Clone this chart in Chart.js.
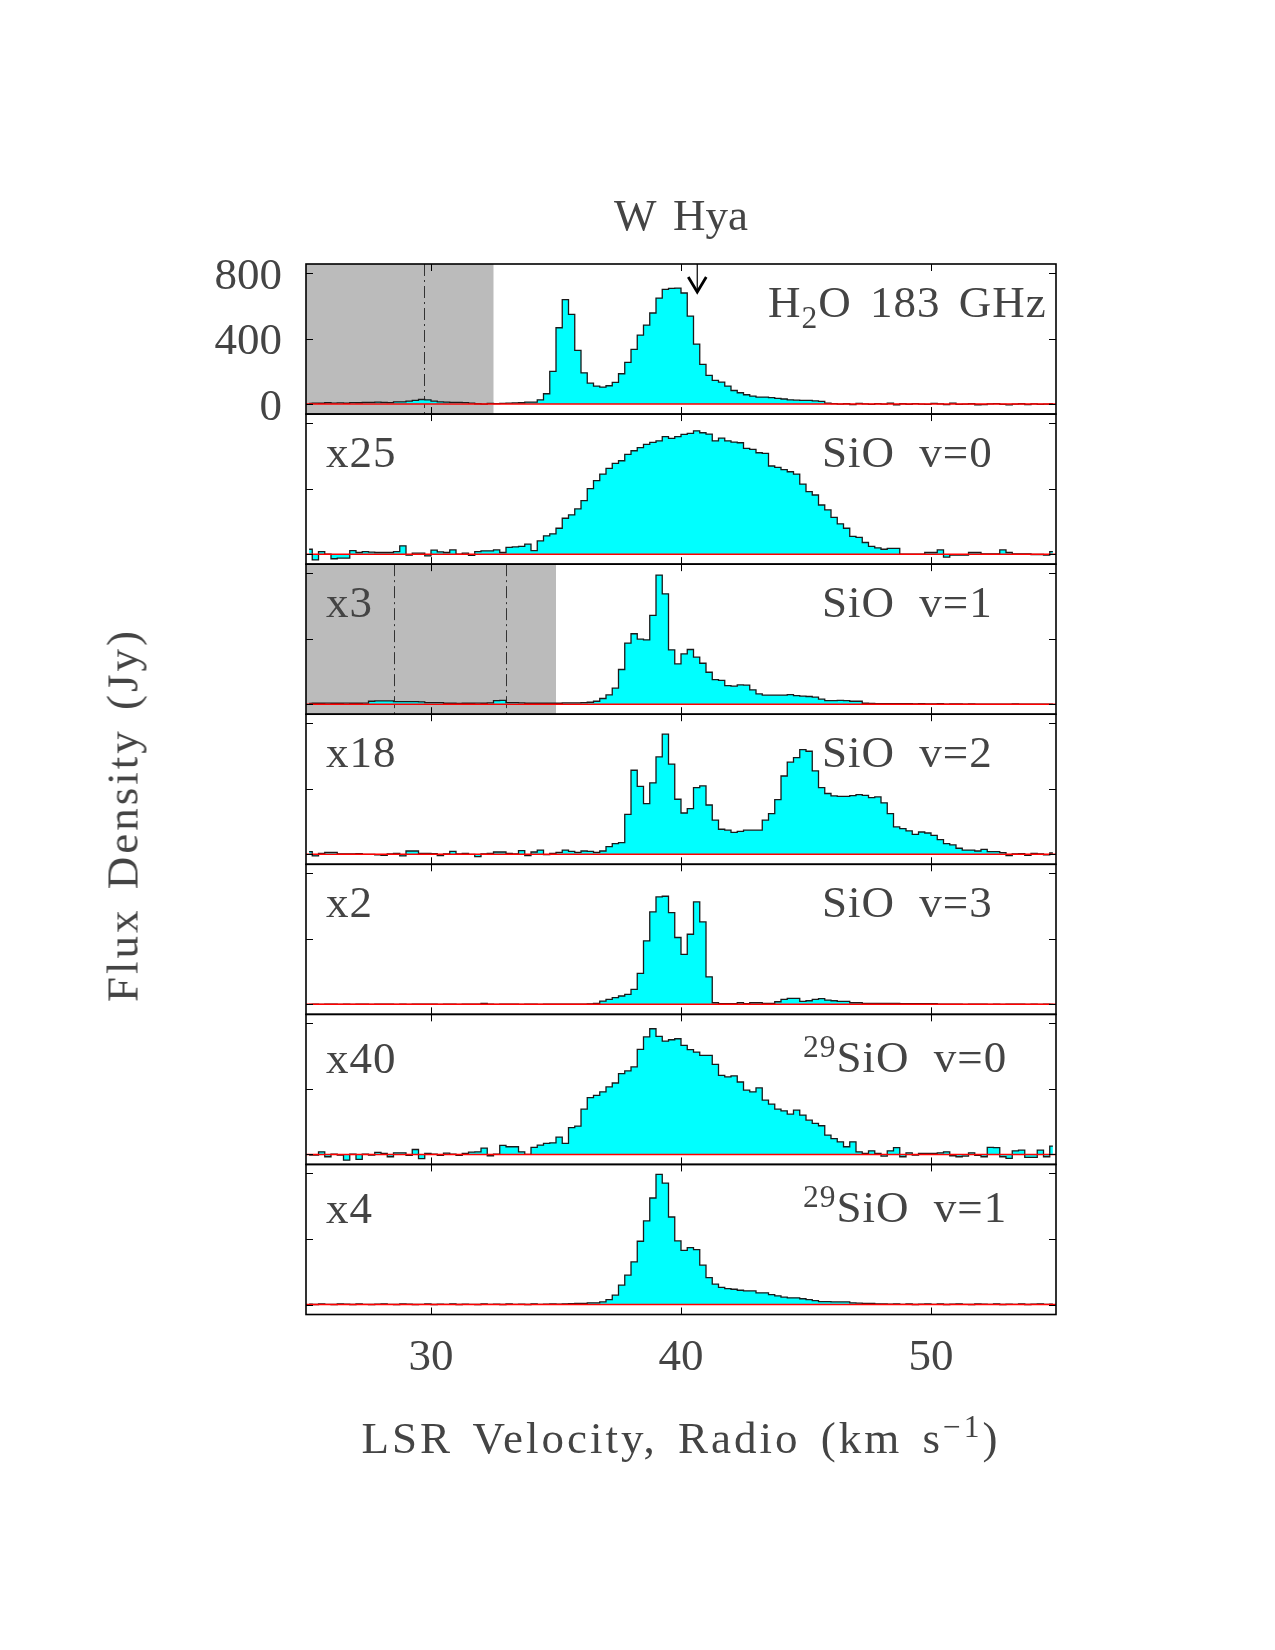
<!DOCTYPE html>
<html>
<head>
<meta charset="utf-8">
<script src="https://cdn.jsdelivr.net/npm/chart.js@4.4.1/dist/chart.umd.min.js"></script>
<style>
html,body{margin:0;padding:0;background:#fff;}
#wrap{position:relative;width:1275px;height:1650px;overflow:hidden;}
#c{position:absolute;left:0;top:0;}
.t{position:absolute;font-family:'Liberation Serif','Times New Roman',serif;color:#444;font-size:45px;line-height:1;white-space:pre;}
.c{transform:translate(-50%,-50%);}
.l{transform:translate(0,-50%);}
.sub{font-size:0.7em;position:relative;top:0.35em;}
.sup{font-size:0.7em;position:relative;top:-0.5em;}
</style>
</head>
<body>
<div id="wrap">
<canvas id="c" width="1275" height="1650"></canvas>
</div>
<script>
// ---------------- data ----------------
const velocityStart = 25.125;   // km/s, centre of first channel
const channelWidth = 0.25;      // km/s
const channelCount = 120;
const xTickValues = [30, 40, 50];
const yTickValues = [0, 400, 800];
const yMin = -61, yMax = 855;

const h2o = [4,6,5,8,6,7,5,9,8,10, 10,12,11,9,13,14,18,22,28,26, 18,14,12,10,11,9,6,2,0,4,
  3,4,6,7,8,12,12,26,63,200, 466,637,548,328,191,128,110,104,112,132,
  185,254,334,421,482,556,647,700,706,708, 678,537,366,242,175,145,134,110,83,69,
  57,49,43,43,39,35,31,26,24,22, 22,20,16,6,3,0,2,-3,4,1,
  -2,3,0,5,-4,2,-1,3,0,-2, 4,1,-3,6,-2,0,2,-4,-3,1, 3,-2,-5,0,2,-3,1,-2,0,2];

const sio0 = [30,-35,16,0,-28,-24,-24,22,10,16, 12,10,10,10,16,51,-6,6,6,-10,
  24,14,10,26,0,6,-8,16,20,20, 26,10,41,44,47,61,22,81,112,124,
  158,219,240,276,327,400,449,489,524,554, 570,609,631,650,670,682,692,717,707,717,
  731,737,753,741,733,692,708,692,684,680, 646,640,619,615,538,530,516,503,489,428,
  382,361,300,270,225,185,158,108,102,71, 47,38,30,35,35,0,0,0,0,10,
  10,26,-18,-6,-6,-6,10,10,2,2, 2,26,10,2,2,2,-2,-2,-6,16];

const sio1 = [5,6,6,7,6,6,7,6,6,7, 18,20,20,20,16,16,16,16,14,10,
  10,10,6,6,5,6,6,7,6,8, 22,24,10,10,8,6,6,6,6,6,
  6,8,8,8,10,12,18,35,57,98, 212,373,430,397,393,542,788,674,332,246,
  307,334,287,250,195,150,145,114,110,118, 116,88,63,55,55,55,55,59,53,49,
  47,43,31,22,22,24,22,18,18,6, 5,4,4,3,4,3,3,2,3,2,
  2,3,1,2,2,1,2,1,0,1, 1,0,1,2,0,1,0,1,1,0];

const sio2 = [16,-10,6,12,12,2,2,2,4,0, 0,-4,-6,2,6,-10,20,20,6,6,
  4,-8,2,18,2,6,0,-14,2,6, 14,14,6,2,22,-8,14,26,-2,6,
  12,26,18,12,20,18,12,20,47,65, 71,244,513,415,309,436,594,733,550,336,
  252,279,407,417,301,208,153,147,134,140, 147,147,147,208,248,334,478,562,590,639,
  629,509,407,371,356,354,354,358,364,360, 346,350,314,248,167,157,143,122,136,130,
  116,90,65,57,37,26,26,20,30,16, 16,10,-8,2,4,-6,6,2,-4,8];

const sio3 = [0,1,0,2,1,0,1,0,2,1, 0,1,2,1,0,1,0,1,2,1,
  1,0,2,1,0,1,2,1,6,1, 0,1,2,1,0,1,1,0,2,1,
  1,2,1,2,2,3,6,20,30,41, 51,61,91,189,388,564,656,660,560,408,
  305,428,625,503,168,10,4,4,4,10, 4,10,10,6,6,16,30,37,37,18,
  22,30,35,26,22,18,18,10,10,6, 6,6,6,6,6,4,4,4,4,4,
  4,2,1,2,1,0,1,2,1,0, 1,0,1,2,1,0,1,0,1,0];

const si29v0 = [-4,-4,16,-14,2,-4,-35,2,-30,2, -4,12,6,-14,10,10,-6,30,-26,6,
  2,-6,8,2,-6,6,14,16,39,-8, 2,55,47,47,16,0,43,57,67,71,
  106,67,164,173,276,347,361,382,412,436, 493,510,534,641,717,767,721,692,700,706,
  666,640,625,605,605,550,483,473,479,442, 392,382,406,331,307,276,266,246,270,240,
  209,189,175,118,97,77,47,77,16,6, 22,6,-10,22,41,-14,10,-4,6,6,
  6,10,16,-8,-14,-10,10,-6,-14,43, 41,-14,-24,22,26,-18,-18,26,-14,51];

const si29v1 = [2,0,3,1,0,4,2,0,3,1, 0,2,4,1,0,3,2,0,1,3,
  0,2,1,4,0,2,1,0,3,1, 2,0,3,1,2,0,4,1,2,3,
  2,4,5,6,6,10,10,16,30,57, 118,179,260,386,510,650,794,741,534,388,
  331,347,335,240,164,124,104,97,93,87, 83,83,71,71,60,53,45,41,41,35,
  30,24,18,18,16,16,16,10,8,6, 6,4,3,2,4,1,3,0,2,4,
  1,3,0,2,4,1,0,3,2,1, 4,0,2,1,3,0,2,4,1,2];

const panelSeries = [h2o, sio0, sio1, sio2, sio3, si29v0, si29v1];
const scaleLabels = ['', 'x25', 'x3', 'x18', 'x2', 'x40', 'x4'];
const lineLabels = ['H<span class="sub">2</span>O 183 GHz', 'SiO v=0', 'SiO v=1', 'SiO v=2', 'SiO v=3',
  '<span class="sup">29</span>SiO v=0', '<span class="sup">29</span>SiO v=1'];
const blankedRanges = [[25, 32.5], null, [25, 35], null, null, null, null];
const markerLines = [[29.7], [], [28.5, 33.0], [], [], [], []];
const arrowMarks = [[40.65], [], [], [], [], [], []];

// ---------------- chart ----------------
const velocities = Array.from({length: channelCount}, (_, i) => velocityStart + i * channelWidth);
const nPanels = panelSeries.length;
const FONT = "'Liberation Serif', 'Times New Roman', serif";

const scales = {
  x: {
    type: 'linear', position: 'bottom', min: 25, max: 55,
    afterBuildTicks: s => { s.ticks = xTickValues.map(v => ({value: v})); },
    ticks: {font: {family: FONT, size: 45}, color: '#444', padding: 17, autoSkip: false, maxRotation: 0},
    grid: {display: false, drawTicks: false}, border: {display: false},
    afterFit: s => { s.height = 1650 - 1314.5; }
  }
};
for (let i = 0; i < nPanels; i++) {
  scales['y' + i] = {
    type: 'linear', position: 'left', stack: 'spectra', stackWeight: 1, weight: nPanels - i,
    min: yMin, max: yMax, offset: false,
    afterBuildTicks: s => { s.ticks = yTickValues.map(v => ({value: v})); },
    ticks: {display: i === 0, font: {family: FONT, size: 45}, color: '#444', padding: 24, autoSkip: false, labelOffset: 4},
    grid: {display: false, drawTicks: false}, border: {display: false},
    afterFit: s => { s.width = 306; }
  };
}

const datasets = panelSeries.map((series, i) => ({
  data: velocities.map((v, k) => ({x: v, y: series[k]})),
  xAxisID: 'x', yAxisID: 'y' + i,
  stepped: 'middle',
  borderColor: '#1a1a1a', borderWidth: 1.3,
  backgroundColor: '#00ffff',
  fill: {value: 0},
  pointRadius: 0, tension: 0
}));

const panelPlugin = {
  id: 'panels',
  beforeDatasetsDraw(chart) {
    const ctx = chart.ctx, xs = chart.scales.x;
    ctx.save();
    for (let i = 0; i < nPanels; i++) {
      const ys = chart.scales['y' + i];
      const r = blankedRanges[i];
      if (r) {
        const x0 = xs.getPixelForValue(r[0]), x1 = xs.getPixelForValue(r[1]);
        ctx.fillStyle = '#bbbbbb';
        ctx.fillRect(x0, ys.top, x1 - x0, ys.bottom - ys.top);
      }
      ctx.strokeStyle = '#333';
      ctx.lineWidth = 1;
      ctx.setLineDash([12, 4, 2, 4]);
      markerLines[i].forEach(v => {
        const x = Math.round(xs.getPixelForValue(v)) + 0.5;
        ctx.beginPath(); ctx.moveTo(x, ys.top); ctx.lineTo(x, ys.bottom); ctx.stroke();
      });
      ctx.setLineDash([]);
    }
    ctx.restore();
  },
  afterDatasetsDraw(chart) {
    const ctx = chart.ctx, xs = chart.scales.x;
    ctx.save();
    for (let i = 0; i < nPanels; i++) {
      const ys = chart.scales['y' + i];
      const y0 = ys.getPixelForValue(0);
      ctx.strokeStyle = '#ff0000'; ctx.lineWidth = 1.5;
      ctx.beginPath(); ctx.moveTo(xs.left, y0); ctx.lineTo(xs.right, y0); ctx.stroke();
      ctx.strokeStyle = '#000'; ctx.lineWidth = 1.6;
      ctx.strokeRect(xs.left, ys.top, xs.right - xs.left, ys.bottom - ys.top);
      ctx.lineWidth = 1;
      ctx.beginPath();
      xTickValues.forEach(v => {
        const x = Math.round(xs.getPixelForValue(v)) + 0.5;
        ctx.moveTo(x, ys.top); ctx.lineTo(x, ys.top + 7);
        ctx.moveTo(x, ys.bottom); ctx.lineTo(x, ys.bottom - 7);
      });
      yTickValues.forEach(v => {
        const y = Math.round(ys.getPixelForValue(v)) + 0.5;
        ctx.moveTo(xs.left, y); ctx.lineTo(xs.left + 7, y);
        ctx.moveTo(xs.right, y); ctx.lineTo(xs.right - 7, y);
      });
      ctx.stroke();
      arrowMarks[i].forEach(v => {
        const x = xs.getPixelForValue(v);
        const tip = ys.top + 28;
        ctx.strokeStyle = '#000'; ctx.lineWidth = 1.2;
        ctx.beginPath(); ctx.moveTo(x, ys.top); ctx.lineTo(x, tip); ctx.stroke();
        ctx.lineWidth = 2.8;
        ctx.beginPath(); ctx.moveTo(x - 9, tip - 15); ctx.lineTo(x, tip); ctx.lineTo(x + 9, tip - 15); ctx.stroke();
      });
    }
    ctx.restore();
  }
};

const chart = new Chart(document.getElementById('c'), {
  type: 'line',
  data: {datasets},
  options: {
    responsive: false, animation: false,
    layout: {padding: {top: 264, right: 219, left: 0, bottom: 0}},
    plugins: {legend: {display: false}, tooltip: {enabled: false}, title: {display: false}},
    scales
  },
  plugins: [panelPlugin]
});

// ---------------- text ----------------
const wrap = document.getElementById('wrap');
function addText(html, x, y, cls, extra) {
  const d = document.createElement('div');
  d.className = 't ' + cls;
  d.innerHTML = html;
  d.style.left = x + 'px';
  d.style.top = y + 'px';
  if (extra) Object.assign(d.style, extra);
  wrap.appendChild(d);
  return d;
}
const xs = chart.scales.x;
addText('W Hya', (xs.left + xs.right) / 2, 215, 'c', {wordSpacing: '6px'});
addText('LSR Velocity, Radio (km s<span class="sup">&#8722;1</span>)', (xs.left + xs.right) / 2, 1438, 'c',
  {letterSpacing: '3px', wordSpacing: '6px'});
addText('Flux Density (Jy)', 123, 815, 'c',
  {letterSpacing: '3px', wordSpacing: '4px', transform: 'translate(-50%,-50%) rotate(-90deg)'});
for (let i = 0; i < nPanels; i++) {
  const ys = chart.scales['y' + i];
  if (scaleLabels[i]) addText(scaleLabels[i], xs.left + 20, ys.top + (i >= 5 ? 44 : 38), 'l', {letterSpacing: '1px'});
  const lx = i === 0 ? 768 : (i >= 5 ? 803 : 822);
  addText(lineLabels[i], lx, ys.top + (i >= 5 ? 43 : 38), 'l',
    {letterSpacing: '1px', wordSpacing: i === 0 ? '6px' : '12px'});
}
</script>
</body>
</html>
